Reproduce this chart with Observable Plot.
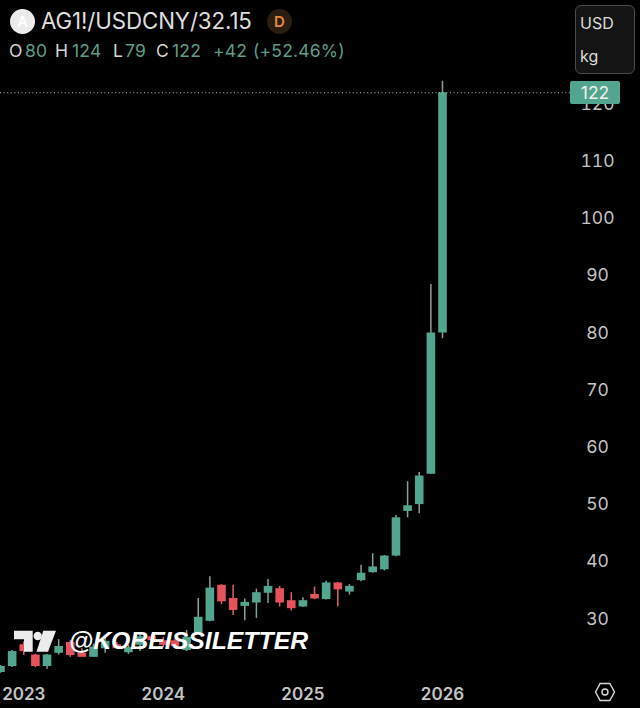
<!DOCTYPE html>
<html>
<head>
<meta charset="utf-8">
<script src="https://cdn.jsdelivr.net/npm/d3@7"></script>
<script src="https://cdn.jsdelivr.net/npm/@observablehq/plot@0.6"></script>
<style>
html,body{margin:0;padding:0;background:#000;}
#wrap{position:relative;width:640px;height:708px;overflow:hidden;background:#000;font-family:Inter,"Noto Sans",sans-serif;}
#wrap svg{display:block;}
.abs{position:absolute;white-space:nowrap;line-height:1;}
.g{color:#5f9c88;}
.w{color:#d6d6d6;}
</style>
</head>
<body>
<div id="wrap"></div>
<script>
const months = ["2022-11","2022-12","2023-01","2023-02","2023-03","2023-04","2023-05","2023-06","2023-07","2023-08","2023-09","2023-10","2023-11","2023-12","2024-01","2024-02","2024-03","2024-04","2024-05","2024-06","2024-07","2024-08","2024-09","2024-10","2024-11","2024-12","2025-01","2025-02","2025-03","2025-04","2025-05","2025-06","2025-07","2025-08","2025-09","2025-10","2025-11","2025-12","2026-01"];
const opens  = [20.65,21.7,25.5,23.7,21.7,24.0,25.9,24.0,23.3,24.8,25.5,24.1,25.4,26.9,26.2,26.2,24.5,27.5,29.6,35.9,33.6,32.2,32.8,34.5,35.3,33.2,32.1,34.3,33.4,36.3,34.7,36.7,38.1,38.6,41.0,48.8,50.0,55.3,80];
const highs  = [21.85,24.5,26.0,23.8,23.8,26.4,26.2,24.8,25.6,26.6,25.9,25.4,27.5,27.3,26.8,26.4,28.0,33.6,37.4,36.0,35.9,33.5,35.2,36.9,35.7,34.6,33.7,35.6,36.6,36.4,36.0,39.4,41.4,41.1,48.1,54.0,55.6,88.5,124];
const lows   = [20.5,21.5,23.6,21.5,21.2,23.7,23.3,23.3,23.3,24.0,24.8,23.8,24.3,25.9,25.0,24.8,24.3,27.5,29.5,32.5,30.6,29.7,30.1,32.7,32.1,31.4,32.0,33.4,33.3,32.1,34.2,36.5,38.0,38.4,40.9,47.7,48.4,55.3,79];
const closes = [21.7,24.3,24.3,21.7,23.7,25.2,23.6,23.3,25.1,26.1,24.8,25.0,26.9,26.2,25.4,25.2,26.8,30.3,35.4,33.0,31.5,32.9,34.6,35.7,32.8,31.8,33.2,33.5,36.3,35.1,35.7,38.0,39.1,41.0,47.7,49.8,55.0,80.0,122];
const yTicks = [30,40,50,60,70,80,90,100,110,120];
const yearTicks = ["2023-01","2024-01","2025-01","2026-01"];
const lastPrice = 122;

const UP = "#52a68f", DOWN = "#e5535d", UPW = "#84a198", DOWNW = "#e0606a";
const candles = months.map((m,i)=>({m,o:opens[i],h:highs[i],l:lows[i],c:closes[i],up:closes[i]>=opens[i]}));

const plot = Plot.plot({
  width:640, height:708,
  marginLeft:0, marginRight:43, marginTop:0, marginBottom:21,
  style:{background:"#000",color:"#c9c9c9",fontFamily:"Inter,'Noto Sans',sans-serif"},
  x:{type:"point",domain:months,range:[0,442],padding:0,round:false,axis:null},
  y:{type:"linear",domain:[30,120],range:[618.5,103.7],axis:null},
  marks:[
    Plot.ruleX(candles,{x:"m",y1:"l",y2:"h",stroke:d=>d.up?UPW:DOWNW,strokeWidth:1.5}),
    Plot.ruleX(candles,{x:"m",y1:"o",y2:"c",stroke:d=>d.up?UP:DOWN,strokeWidth:8.6}),
    Plot.ruleY([lastPrice],{stroke:"#a9cdbf",strokeWidth:1,strokeDasharray:"1 2.6"}),
    Plot.axisY(yTicks,{anchor:"right",tickSize:0,tickPadding:0,textAnchor:"middle",fontSize:17.5,fill:"#c4c4c4",label:null,tickFormat:d=>String(d)}),
    Plot.axisX(yearTicks,{anchor:"bottom",tickSize:0,tickPadding:0,fontSize:17,fontWeight:600,fill:"#c4c4c4",label:null,tickFormat:d=>d.slice(0,4)})
  ]
});
const wrap = document.getElementById("wrap");
wrap.appendChild(plot);
const py = plot.scale("y").apply(lastPrice);

function add(html){const t=document.createElement("template");t.innerHTML=html.trim();wrap.appendChild(t.content.firstChild);}
// Price tag
add(`<div class="abs" style="left:570px;top:${py-11.5}px;width:50px;height:23px;background:${UP};border-radius:2px;color:#f0f0f0;font-size:17.5px;text-align:center;line-height:23px;">${lastPrice}</div>`);
// Header
add(`<div class="abs" style="left:10px;top:9px;width:25px;height:25px;border-radius:50%;background:#ececec;color:#fff;font-size:14px;font-weight:600;text-align:center;line-height:25px;">A</div>`);
add(`<div class="abs" style="left:41px;top:10px;font-size:22.3px;color:#dedede;letter-spacing:-.1px;">AG1!/USDCNY/32.15</div>`);
add(`<div class="abs" style="left:267px;top:9px;width:25px;height:25px;border-radius:50%;background:#2a1d12;color:#e48a3e;font-size:15px;font-weight:600;text-align:center;line-height:25px;">D</div>`);
const row = [["O",9,"w"],["80",25,"g"],["H",55,"w"],["124",72,"g"],["L",113,"w"],["79",125,"g"],["C",156,"w"],["122",172,"g"],["+42",213,"g"],["(+52.46%)",253,"g"]];
row.forEach(([s,x,c])=>add(`<div class="abs ${c}" style="left:${x}px;top:42px;font-size:17.5px;letter-spacing:.2px;">${s}</div>`));
// Unit box
add(`<div class="abs" style="left:575px;top:5px;width:60px;height:69px;box-sizing:border-box;background:#141414;border:1.5px solid #4a4a4a;border-radius:6px;"></div>`);
add(`<div class="abs" style="left:580px;top:15px;font-size:16px;color:#dcdcdc;">USD</div>`);
add(`<div class="abs" style="left:580px;top:48px;font-size:16px;color:#dcdcdc;">kg</div>`);
// Watermark
add(`<svg class="abs" style="left:0;top:0;" width="640" height="708" xmlns="http://www.w3.org/2000/svg">
  <path fill="#ececec" d="M14 630.7H32.7V651.7H24V639.3H14Z"/>
  <circle cx="37.7" cy="636" r="4.2" fill="#ececec"/>
  <path fill="#ececec" d="M43.3 630.7H56L48 651.7H36.5Z"/>
  <text x="69" y="649" font-family="'Liberation Sans',Arial,sans-serif" font-weight="700" font-style="italic" font-size="24.8" fill="#fff">@KOBEISSILETTER</text>
  <g fill="none" stroke="#d8d8d8" stroke-width="1.4">
    <path d="M595.5 692L600.2 683.5H609.8L614.5 692L609.8 700.5H600.2Z"/>
    <circle cx="605" cy="692" r="3"/>
  </g>
</svg>`);
</script>
</body>
</html>
